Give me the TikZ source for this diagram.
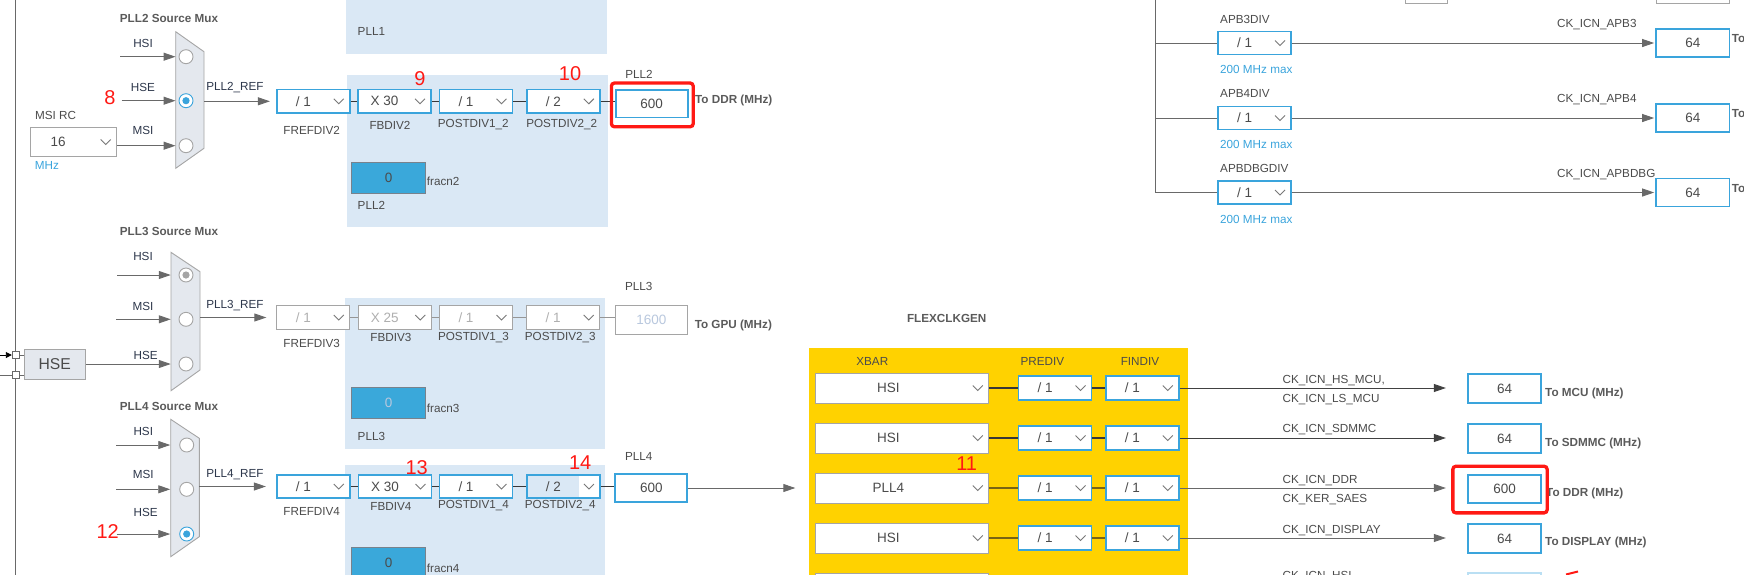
\documentclass[tikz,border=0pt]{standalone}
\usepackage{fontspec}
\setmainfont{Liberation Sans}
\usetikzlibrary{arrows.meta}

\definecolor{cblue}{RGB}{58,164,220}
\definecolor{cpanel}{RGB}{218,232,245}
\definecolor{cfrac}{RGB}{58,168,218}
\definecolor{cfracb}{RGB}{120,130,140}
\definecolor{cgray}{RGB}{165,165,165}
\definecolor{cline}{RGB}{105,105,105}
\definecolor{ctext}{RGB}{75,75,75}
\definecolor{ctitle}{RGB}{90,90,90}
\definecolor{cdim}{RGB}{175,175,175}
\definecolor{cdimblue}{RGB}{185,200,222}
\definecolor{cmux}{RGB}{228,232,238}
\definecolor{cyel}{RGB}{255,210,0}
\definecolor{cred}{RGB}{255,25,20}
\definecolor{cnavy}{RGB}{45,55,75}
\definecolor{cchev}{RGB}{120,120,120}
\definecolor{clink}{RGB}{55,55,55}
\definecolor{clinkoff}{RGB}{150,150,150}
\definecolor{clinky}{RGB}{120,100,20}

\newcommand{\lblfont}{\fontsize{11.7}{14}\selectfont}
\newcommand{\boxfont}{\fontsize{13.5}{16}\selectfont}
\newcommand{\numfont}{\fontsize{20}{24}\selectfont}
\newcommand{\hsefont}{\fontsize{15.7}{18}\selectfont}

\begin{document}
\begin{tikzpicture}[x=1pt,y=-1pt,
  lbl/.style={font=\lblfont, text=ctext, inner sep=0pt},
  title/.style={font=\lblfont\bfseries, text=ctitle, inner sep=0pt},
  inlbl/.style={font=\lblfont, text=cnavy, inner sep=0pt},
  tolbl/.style={font=\lblfont\bfseries, text=ctitle, inner sep=0pt, anchor=west},
  note/.style={font=\lblfont, text=cblue, inner sep=0pt, anchor=west},
  num/.style={font=\numfont, text=cred, inner sep=0pt},
  chev/.style={draw=cchev, line width=0.9pt},
  dropbase/.style={draw=cblue, line width=1.8pt, fill=white, minimum width=73pt,
    minimum height=23.5pt, inner sep=0pt, font=\boxfont, text=ctext,
    path picture={\draw[chev] ([xshift=-16pt,yshift=2.5pt]path picture bounding box.east)
      -- ++(5pt,-5pt) -- ++(5pt,5pt);}},
  dropbox/.style={dropbase, execute at end node={\hspace{#1}}},
  dropbox/.default=20pt,
  dropoff/.style={dropbox, draw=cgray, line width=0.9pt, text=cdim},
  dropsel/.style={dropbox, fill=cpanel,
    path picture={\fill[white] ([xshift=-21pt]path picture bounding box.north east)
      rectangle (path picture bounding box.south east);
      \draw[chev] ([xshift=-16pt,yshift=2.5pt]path picture bounding box.east)
      -- ++(5pt,-5pt) -- ++(5pt,5pt);}},
  xbarbox/.style={dropbase, draw=cgray, line width=1pt, minimum width=173pt,
    minimum height=30pt, execute at end node={\hspace{28pt}}},
  outbox/.style={draw=cblue, line width=1.8pt, fill=white, minimum width=72pt,
    minimum height=27.5pt, inner sep=0pt, font=\boxfont, text=ctext},
  outoff/.style={outbox, draw=cgray, line width=0.9pt, text=cdimblue},
  fracbox/.style={draw=cfracb, line width=0.7pt, fill=cfrac, minimum width=74pt,
    minimum height=30.6pt, inner sep=0pt, font=\boxfont, text=ctext},
  radio/.style={circle, draw=cgray, line width=0.9pt, fill=white, minimum size=14pt, inner sep=0pt},
  radiosel/.style={radio, draw=cblue,
    path picture={\fill[cblue] (path picture bounding box.center) circle (3.6pt);}},
  radiogray/.style={radio,
    path picture={\fill[cgray] (path picture bounding box.center) circle (3.6pt);}},
  hsebox/.style={draw=cgray, line width=0.9pt, fill=cmux, minimum width=61.7pt,
    minimum height=30pt, inner sep=0pt, font=\hsefont, text=ctext},
  sqbox/.style={draw=cline, line width=0.8pt, fill=white, minimum size=7pt, inner sep=0pt},
  mux/.style={draw=cgray, fill=cmux, line width=0.9pt},
  arr/.style={draw=cline, line width=0.9pt, -{Triangle[length=12pt,width=8pt]}},
  wire/.style={draw=cline, line width=0.9pt},
  link/.style={draw=clink, line width=1.4pt},
  linkoff/.style={draw=clinkoff, line width=1.2pt},
  linky/.style={draw=clinky, line width=1.4pt},
  redframe/.style={draw=cred, line width=3.3pt, rounded corners=3pt}]
\useasboundingbox (0,0) rectangle (1744,574);
\clip (0,0) rectangle (1744,574);

% panels
\fill[cpanel] (346,-10) rectangle (606.5,54.3);
\fill[cpanel] (347,75.3) rectangle (607.7,227.3);
\fill[cpanel] (345,297.7) rectangle (605.4,449.3);
\fill[cpanel] (345,465) rectangle (605.4,590);
\fill[cyel] (809,348.3) rectangle (1188,590);
\node[lbl, anchor=west] (pl1) at (357.5,31) {PLL1};
\node[lbl, anchor=west] (pl2) at (357.5,205) {PLL2};
\node[lbl, anchor=west] (pl3) at (357.5,436.7) {PLL3};

% left rail and HSE
\draw[wire] (15.7,-10) -- (15.7,590);
\node[hsebox] (hse) at (54.8,364) {HSE};
\node[sqbox] (sq1) at (15.7,355) {};
\node[sqbox] (sq2) at (15.7,375) {};
\coordinate (w1) at (0,355);
\coordinate (w2) at (0,375);
\draw[black, line width=0.9pt, -{Triangle[length=6pt,width=6pt]}] (w1) -- (sq1);
\draw[wire] (w2) -- (sq2);
\draw[wire] (sq1) -- (sq1 -| hse.west);
\draw[wire] (sq2) -- (sq2 -| hse.west);

% PLL2 source mux
\node[title] (t2) at (169,18.3) {PLL2 Source Mux};
\draw[mux] (175.7,31.7) -- (204,51.7) -- (204,148.3) -- (175.7,168.3) -- cycle;
\node[radio] (r2a) at (186,56.7) {};
\node[radiosel] (r2b) at (186,100.7) {};
\node[radio] (r2c) at (186,145.7) {};
\node[inlbl] (l2a) at (143,43.3) {HSI};
\node[inlbl] (l2b) at (143,87.3) {HSE};
\node[inlbl] (l2c) at (143,130.7) {MSI};
\node[lbl] (lmsi) at (55.5,115) {MSI RC};
\node[dropbox=31pt, draw=cgray, line width=1pt, minimum width=86pt, minimum height=29.3pt] (msi) at (73.7,142) {16};
\node[note, anchor=center] (mhz) at (47,165) {MHz};
\coordinate (s2a) at (120,56.7);
\coordinate (s2b) at (121.7,100.7);
\draw[arr, shorten >=3pt] (s2a) -- (r2a);
\draw[arr, shorten >=3pt] (s2b) -- (r2b);
\draw[arr, shorten >=3pt] (msi.east |- r2c) -- (r2c);
\node[num] (n8) at (110,98) {8};

% PLL2 row
\node[dropbox] (f2) at (313.3,101.3) {/ 1};
\node[dropbox] (fb2) at (394.5,101.3) {X 30};
\node[dropbox] (pa2) at (476,101.3) {/ 1};
\node[dropbox] (pb2) at (563.3,101.3) {/ 2};
\node[outbox] (o2) at (651.7,103.7) {600};
\coordinate (m2o) at (204,101.3);
\draw[arr, shorten >=6pt] (m2o) -- (f2);
\node[inlbl] (ref2) at (235,87.7) {PLL2\_REF};
\draw[link] (f2) -- (fb2);
\draw[link] (fb2) -- (pa2);
\draw[link] (pa2) -- (pb2);
\draw[link] (pb2.east) -- (pb2.east -| o2.west);
\node[lbl] (lf2) at (311.7,130.5) {FREFDIV2};
\node[lbl] (lfb2) at (390,125) {FBDIV2};
\node[lbl] (lpa2) at (473.3,125) {POSTDIV1\_2};
\node[lbl] (lpb2) at (561.7,125) {POSTDIV2\_2};
\node[lbl] (lo2) at (639,74) {PLL2};
\node[tolbl] (to2) at (695,100) {To DDR (MHz)};
\node[fracbox] (fr2) at (388.7,178) {0};
\node[lbl, anchor=west] (lfr2) at (426.7,181.7) {fracn2};
\draw[redframe] ([shift={(-3.4,-6)}]o2.north west) rectangle ([shift={(4.6,8.4)}]o2.south east);
\node[num] (n9) at (420,78.3) {9};
\node[num] (n10) at (570,74) {10};

% PLL3 source mux
\node[title] (t3) at (169,231) {PLL3 Source Mux};
\draw[mux] (171,252.3) -- (200,271.7) -- (200,370) -- (171,390.7) -- cycle;
\node[radiogray] (r3a) at (186,275) {};
\node[radio] (r3b) at (186,319.3) {};
\node[radio] (r3c) at (186,364) {};
\node[inlbl] (l3a) at (143,256) {HSI};
\node[inlbl] (l3b) at (143,306) {MSI};
\node[inlbl] (l3c) at (145.7,355) {HSE};
\coordinate (s3a) at (117.3,275);
\coordinate (s3b) at (116,319.3);
\draw[arr, shorten >=7.8pt] (s3a) -- (r3a);
\draw[arr, shorten >=7.8pt] (s3b) -- (r3b);
\draw[arr, shorten >=7.8pt] (hse.east |- r3c) -- (r3c);

% PLL3 row
\node[dropoff] (f3) at (313.3,317.5) {/ 1};
\node[dropoff] (fb3) at (394.8,317.5) {X 25};
\node[dropoff] (pa3) at (476,317.5) {/ 1};
\node[dropoff] (pb3) at (563.2,317.5) {/ 1};
\node[outoff, minimum height=28.3pt] (o3) at (651.3,319.8) {1600};
\coordinate (m3o) at (200,317.5);
\draw[arr, shorten >=10pt] (m3o) -- (f3);
\node[inlbl] (ref3) at (235,306) {PLL3\_REF};
\draw[linkoff] (f3) -- (fb3);
\draw[linkoff] (fb3) -- (pa3);
\draw[linkoff] (pa3) -- (pb3);
\draw[linkoff] (pb3.east) -- (pb3.east -| o3.west);
\node[lbl] (lf3) at (311.7,343.3) {FREFDIV3};
\node[lbl] (lfb3) at (390.9,337.3) {FBDIV3};
\node[lbl] (lpa3) at (473.5,337.3) {POSTDIV1\_3};
\node[lbl] (lpb3) at (560.3,337.3) {POSTDIV2\_3};
\node[lbl] (lo3) at (638.8,286.7) {PLL3};
\node[tolbl] (to3) at (694.6,325) {To GPU (MHz)};
\node[fracbox, text=cdimblue] (fr3) at (388.7,403) {0};
\node[lbl, anchor=west] (lfr3) at (426.7,408.3) {fracn3};

% PLL4 source mux
\node[title] (t4) at (169,406) {PLL4 Source Mux};
\draw[mux] (170.7,419.3) -- (199.3,438.3) -- (199.3,536.7) -- (170.7,556.7) -- cycle;
\node[radio] (r4a) at (186.7,445) {};
\node[radio] (r4b) at (186.7,489.3) {};
\node[radiosel] (r4c) at (186.7,534) {};
\node[inlbl] (l4a) at (143.3,431) {HSI};
\node[inlbl] (l4b) at (143.3,474.3) {MSI};
\node[inlbl] (l4c) at (145.7,512.3) {HSE};
\coordinate (s4a) at (116,445);
\coordinate (s4b) at (116,489.3);
\coordinate (s4c) at (116.7,534);
\draw[arr, shorten >=9pt] (s4a) -- (r4a);
\draw[arr, shorten >=9pt] (s4b) -- (r4b);
\draw[arr, shorten >=9pt] (s4c) -- (r4c);
\node[num] (n12) at (107.7,531.7) {12};

% PLL4 row
\node[dropbox] (f4) at (313.3,486.5) {/ 1};
\node[dropbox] (fb4) at (395,486.5) {X 30};
\node[dropbox] (pa4) at (476,486.5) {/ 1};
\node[dropsel] (pb4) at (563.4,486.5) {/ 2};
\node[outbox] (o4) at (651.3,488) {600};
\coordinate (m4o) at (199.3,486.5);
\draw[arr, shorten >=10pt] (m4o) -- (f4);
\node[inlbl] (ref4) at (235,474.3) {PLL4\_REF};
\draw[link] (f4) -- (fb4);
\draw[link] (fb4) -- (pa4);
\draw[link] (pa4) -- (pb4);
\draw[link] (pb4.east) -- (pb4.east -| o4.west);
\node[lbl] (lf4) at (311.7,511) {FREFDIV4};
\node[lbl] (lfb4) at (390.9,506) {FBDIV4};
\node[lbl] (lpa4) at (473.5,506) {POSTDIV1\_4};
\node[lbl] (lpb4) at (560.3,506) {POSTDIV2\_4};
\node[lbl] (lo4) at (638.8,456) {PLL4};
\node[fracbox] (fr4) at (388.7,563) {0};
\node[lbl, anchor=west] (lfr4) at (426.7,568.3) {fracn4};
\node[num] (n13) at (416.7,467.3) {13};
\node[num] (n14) at (580.2,462.7) {14};

% FLEXCLKGEN
\node[title] (tflex) at (946.7,318.3) {FLEXCLKGEN};
\node[lbl] (hx) at (872.3,361.7) {XBAR};
\node[lbl] (hp) at (1042.3,361.7) {PREDIV};
\node[lbl] (hf) at (1140,361.7) {FINDIV};
\node[xbarbox] (x1) at (902.3,388) {HSI};
\node[xbarbox] (x2) at (902.3,438) {HSI};
\node[xbarbox] (x3) at (902.3,488) {PLL4};
\node[xbarbox] (x4) at (902.3,538) {HSI};
\node[xbarbox] (x5) at (902.3,588) {};
\node[dropbox] (p1) at (1055,388) {/ 1};
\node[dropbox] (p2) at (1055,438) {/ 1};
\node[dropbox] (p3) at (1055,488) {/ 1};
\node[dropbox] (p4) at (1055,538) {/ 1};
\node[dropbox] (q1) at (1142.3,388) {/ 1};
\node[dropbox] (q2) at (1142.3,438) {/ 1};
\node[dropbox] (q3) at (1142.3,488) {/ 1};
\node[dropbox] (q4) at (1142.3,538) {/ 1};
\draw[link] (x1) -- (p1) -- (q1);
\draw[link] (x2) -- (p2) -- (q2);
\draw[linky] (x3) -- (p3) -- (q3);
\draw[linky] (x4) -- (p4) -- (q4);
\draw[arr, shorten >=20pt] (o4) -- (x3);
\node[num] (n11) at (966.7,463.3) {11};

% FLEXCLKGEN outputs
\node[outbox, minimum width=73.5pt, minimum height=28.3pt] (c1) at (1504.5,388.5) {64};
\node[outbox, minimum width=73.5pt, minimum height=28.3pt] (c2) at (1504.5,438.5) {64};
\node[outbox, minimum width=73.5pt, minimum height=28.3pt] (c3) at (1504.5,488.8) {600};
\node[outbox, minimum width=73.5pt, minimum height=28.3pt] (c4) at (1504.5,538.5) {64};
\node[outbox, draw=cblue!35, minimum width=73.5pt, minimum height=28.3pt] (c5) at (1504.5,587) {};
\draw[arr, draw=clink!80!cline, shorten >=21pt] (q1) -- (q1 -| c1.west);
\draw[arr, draw=clink!80!cline, shorten >=21pt] (q2) -- (q2 -| c2.west);
\draw[arr, shorten >=21pt] (q3) -- (q3 -| c3.west);
\draw[arr, shorten >=21pt] (q4) -- (q4 -| c4.west);
\node[lbl, anchor=west] (k1a) at (1282.5,381) {CK\_ICN\_HS\_MCU,};
\node[lbl, anchor=west] (k1b) at (1282.5,399.3) {CK\_ICN\_LS\_MCU};
\node[lbl, anchor=west] (k2) at (1282.5,430) {CK\_ICN\_SDMMC};
\node[lbl, anchor=west] (k3a) at (1282.5,480.7) {CK\_ICN\_DDR};
\node[lbl, anchor=west] (k3b) at (1282.5,499.3) {CK\_KER\_SAES};
\node[lbl, anchor=west] (k4) at (1282.5,530.7) {CK\_ICN\_DISPLAY};
\node[lbl, anchor=west] (k5) at (1282.5,577) {CK\_ICN\_HSI};
\node[tolbl] (to5) at (1545,393.3) {To MCU (MHz)};
\node[tolbl] (to6) at (1545,443.3) {To SDMMC (MHz)};
\node[tolbl] (to7) at (1546,493.3) {To DDR (MHz)};
\node[tolbl] (to8) at (1545,542.3) {To DISPLAY (MHz)};
\draw[redframe] ([shift={(-14,-7.5)}]c3.north west) rectangle ([shift={(5,9)}]c3.south east);
\draw[cred, line width=2pt] (1566,574.5) -- (1578,571.5);

% APB dividers
\draw[cgray, line width=0.9pt] (1405,-10) rectangle (1447,3.3);
\draw[cgray, line width=0.9pt] (1656,-10) rectangle (1729.5,3.3);
\draw[wire] (1155,-10) -- (1155,192.5);
\coordinate (b3) at (1155,43);
\coordinate (b4) at (1155,118);
\coordinate (bd) at (1155,192.5);
\node[lbl, anchor=west] (la3) at (1220,19) {APB3DIV};
\node[lbl, anchor=west] (la4) at (1220,93.3) {APB4DIV};
\node[lbl, anchor=west] (lad) at (1220,168.3) {APBDBGDIV};
\node[dropbox, minimum height=23pt] (a3) at (1254.5,43) {/ 1};
\node[dropbox, minimum height=23pt] (a4) at (1254.5,118) {/ 1};
\node[dropbox, minimum height=23pt] (ad) at (1254.5,192.5) {/ 1};
\node[note] (m3) at (1220,69) {200 MHz max};
\node[note] (m4) at (1220,144) {200 MHz max};
\node[note] (md) at (1220,219) {200 MHz max};
\node[outbox, minimum width=73.5pt, minimum height=28pt] (k3o) at (1692.8,43) {64};
\node[outbox, minimum width=73.5pt, minimum height=28pt] (k4o) at (1692.8,118) {64};
\node[outbox, minimum width=73.5pt, minimum height=28pt] (kdo) at (1692.8,192.5) {64};
\draw[wire] (b3) -- (a3);
\draw[wire] (b4) -- (a4);
\draw[wire] (bd) -- (ad);
\draw[arr, shorten >=1pt] (a3) -- (k3o);
\draw[arr, shorten >=1pt] (a4) -- (k4o);
\draw[arr, shorten >=1pt] (ad) -- (kdo);
\node[lbl, anchor=west] (c3l) at (1557,24.3) {CK\_ICN\_APB3};
\node[lbl, anchor=west] (c4l) at (1557,99.3) {CK\_ICN\_APB4};
\node[lbl, anchor=west] (cdl) at (1557,174.3) {CK\_ICN\_APBDBG};
\node[tolbl] (to9) at (1731.7,39) {To};
\node[tolbl] (to10) at (1731.7,114) {To};
\node[tolbl] (to11) at (1731.7,189) {To};
\end{tikzpicture}
\end{document}
